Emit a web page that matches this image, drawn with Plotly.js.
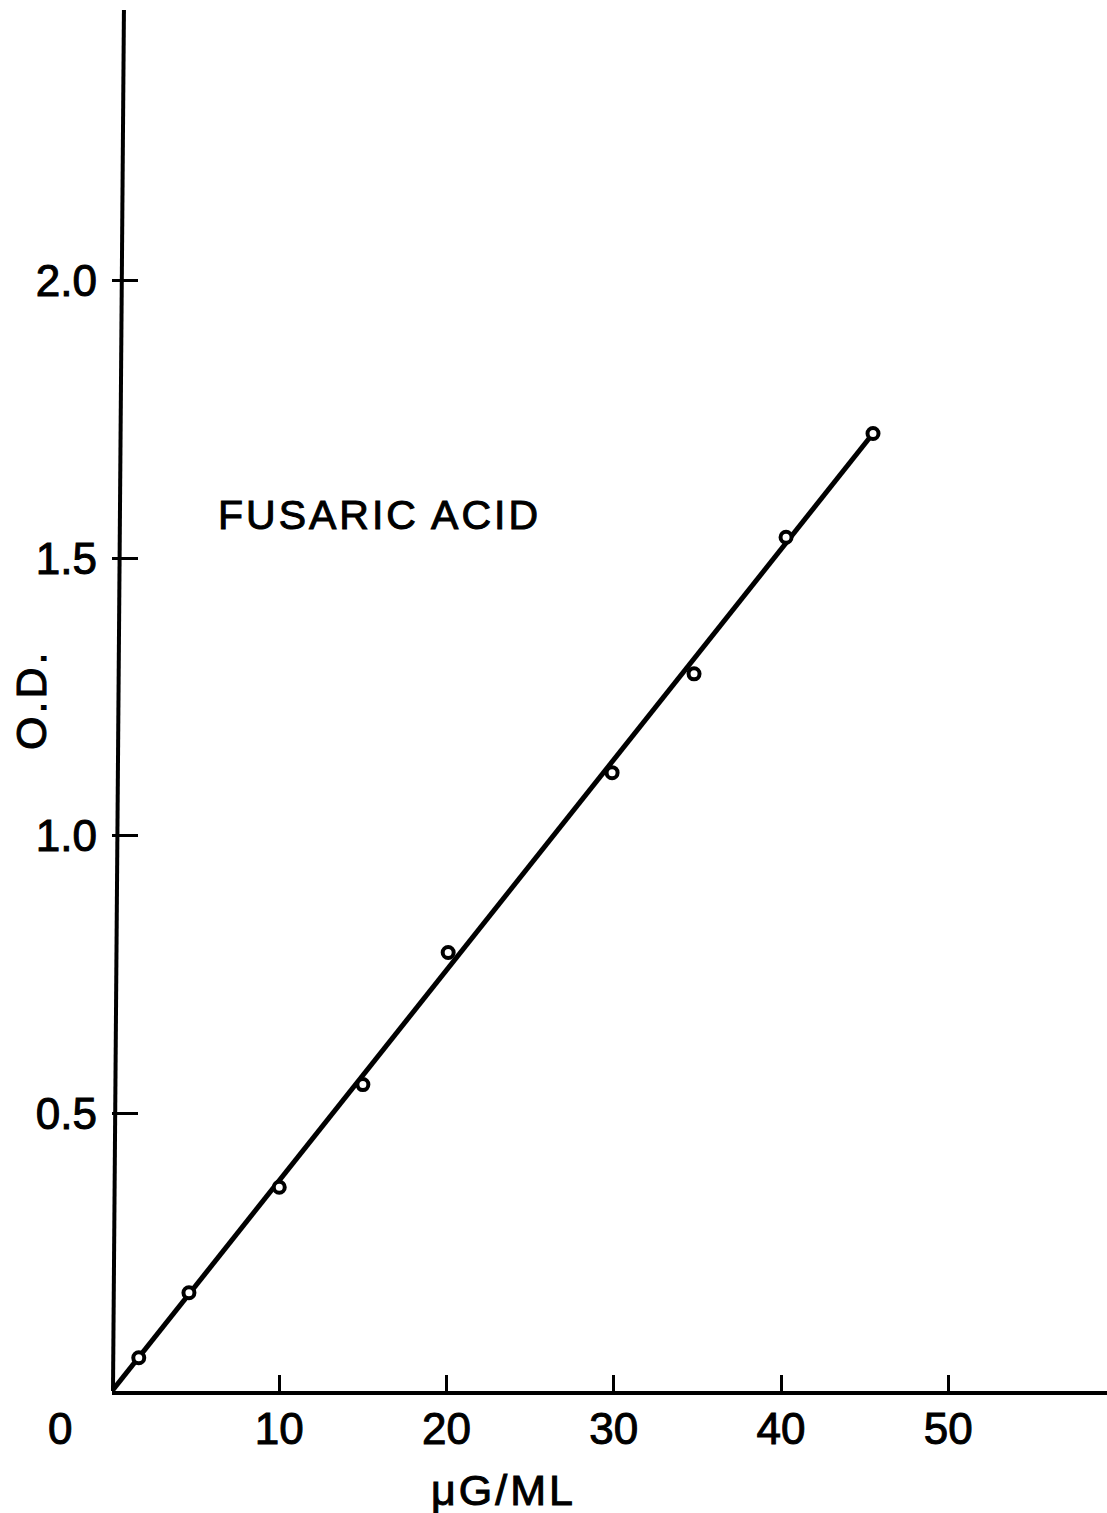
<!DOCTYPE html>
<html>
<head>
<meta charset="utf-8">
<script src="https://cdn.plot.ly/plotly-3.0.1.min.js"></script>
<style>
  html, body { margin: 0; padding: 0; background: #fff; }
  #chart { width: 1107px; height: 1513px; }
  .annotation-text { letter-spacing: 3px; }
  .main-svg text { stroke: #000; stroke-width: 1px; }
</style>
</head>
<body>
<div id="chart"></div>
<script>
// Data
const concUgPerMl = [1.6, 4.6, 10.0, 15.0, 20.1, 29.9, 34.8, 40.3, 45.5];
const opticalDensity = [0.060, 0.177, 0.367, 0.552, 0.790, 1.114, 1.292, 1.538, 1.725];
// Fitted straight line (from origin to the last point region)
const fitX = [0, 45.5];
const fitY = [0, 1.725];

const xTickVals = [10, 20, 30, 40, 50];
const xTickText = ["10", "20", "30", "40", "50"];
const yTickVals = [0.5, 1.0, 1.5, 2.0];
const yTickText = ["0.5", "1.0", "1.5", "2.0"];

const seriesLabel = "FUSARIC ACID";
const xLabel = "μG/ML";
const yLabel = "O.D.";
const originLabel = "0";

const FONT = "Liberation Sans, Arial, sans-serif";

const traces = [
  {
    x: fitX, y: fitY, type: "scatter", mode: "lines",
    line: { color: "#000", width: 5 }, hoverinfo: "skip", showlegend: false
  },
  {
    x: concUgPerMl, y: opticalDensity, type: "scatter", mode: "markers",
    marker: { symbol: "circle", size: 11, color: "#fff", line: { color: "#000", width: 4 } },
    showlegend: false, cliponaxis: false
  }
];

const layout = {
  width: 1107, height: 1513,
  margin: { l: 112, r: 0, t: 10, b: 122 },
  paper_bgcolor: "#fff", plot_bgcolor: "#fff",
  font: { family: FONT, color: "#000", size: 42 },
  showlegend: false,
  xaxis: {
    range: [0, 59.49], showgrid: false, zeroline: false,
    showline: true, linecolor: "#000", linewidth: 4,
    tickvals: xTickVals, ticktext: xTickText,
    ticks: "inside", ticklen: 16, tickwidth: 3, tickcolor: "#000",
    ticklabelstandoff: -4,
    tickfont: { family: FONT, size: 44, color: "#000" }
  },
  yaxis: {
    range: [0, 2.488], showgrid: false, zeroline: false,
    showline: false,
    tickvals: yTickVals, ticktext: yTickText,
    ticks: "inside", ticklen: 26, tickwidth: 3, tickcolor: "#000",
    ticklabelstandoff: 14,
    tickfont: { family: FONT, size: 44, color: "#000" }
  },
  shapes: [
    { type: "line", xref: "paper", yref: "paper", x0: 0.001, y0: 0, x1: 0.012, y1: 1,
      line: { color: "#000", width: 4 } }
  ],
  annotations: [
    { text: originLabel, xref: "paper", yref: "paper", x: -0.0503, y: 0, yshift: -37,
      showarrow: false, font: { family: FONT, size: 44, color: "#000" }, xanchor: "center", yanchor: "middle" },
    { text: seriesLabel, xref: "x", yref: "y", x: 15.97, y: 1.579,
      showarrow: false, font: { family: FONT, size: 41, color: "#000" }, xanchor: "center", yanchor: "middle" },
    { text: xLabel, xref: "paper", yref: "paper", x: 0.393, y: 0, yshift: -99,
      showarrow: false, font: { family: FONT, size: 43, color: "#000" }, xanchor: "center", yanchor: "middle" },
    { text: yLabel, xref: "paper", yref: "y", x: -0.0814, y: 1.245, textangle: -90,
      showarrow: false, font: { family: FONT, size: 43, color: "#000" }, xanchor: "center", yanchor: "middle" }
  ]
};

Plotly.newPlot("chart", traces, layout, { staticPlot: true, displayModeBar: false });
</script>
</body>
</html>
